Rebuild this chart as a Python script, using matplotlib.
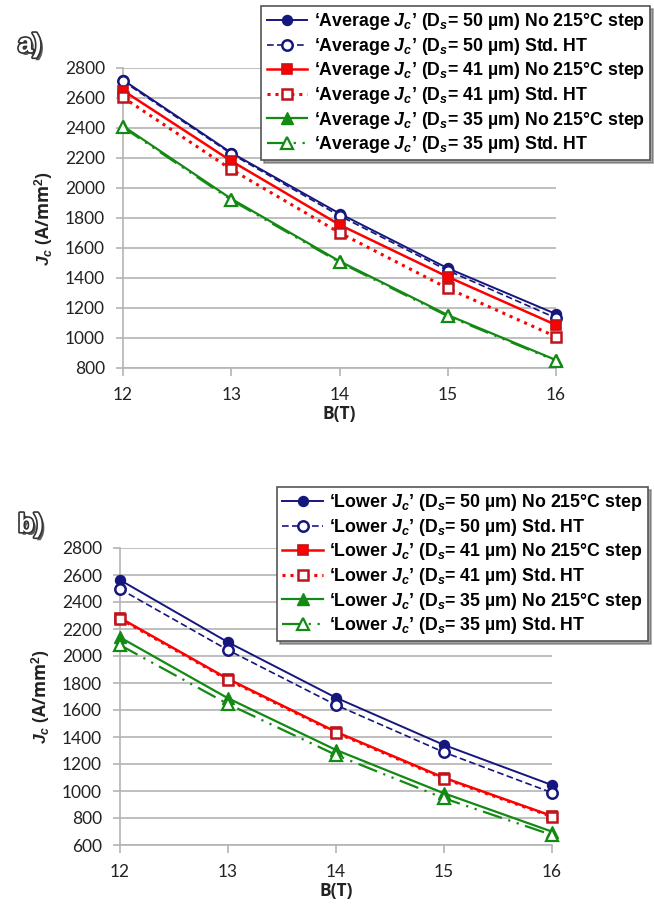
import matplotlib
matplotlib.use("Agg")
import matplotlib.pyplot as plt
import matplotlib.patheffects as pe

plt.rcParams["font.family"] = ["Lato", "DejaVu Sans"]
plt.rcParams["mathtext.fontset"] = "custom"
plt.rcParams["mathtext.rm"] = "Liberation Sans:bold"
plt.rcParams["mathtext.it"] = "Liberation Sans:bold:italic"
plt.rcParams["mathtext.bf"] = "Liberation Sans:bold"

# Magnetic field (T)
field = [12, 13, 14, 15, 16]

# Panel a: 'Average Jc' (A/mm^2)
avg_50_no215 = [2720, 2235, 1830, 1465, 1160]
avg_50_std = [2712, 2228, 1815, 1450, 1133]
avg_41_no215 = [2650, 2180, 1755, 1408, 1087]
avg_41_std = [2604, 2124, 1702, 1331, 1009]
avg_35_no215 = [2413, 1928, 1512, 1153, 853]
avg_35_std = [2405, 1920, 1505, 1146, 848]

# Panel b: 'Lower Jc' (A/mm^2)
low_50_no215 = [2563, 2102, 1691, 1341, 1044]
low_50_std = [2496, 2044, 1637, 1287, 987]
low_41_no215 = [2282, 1830, 1438, 1098, 815]
low_41_std = [2276, 1824, 1432, 1092, 810]
low_35_no215 = [2138, 1687, 1304, 983, 699]
low_35_std = [2081, 1644, 1267, 946, 674]

NAVY = "#16167f"
RED = "#ff0000"
RED_EDGE = "#c0141a"
GREEN = "#138a13"
GRID = "#b4b4b4"
LABEL_FONT = ["Open Sans", "DejaVu Sans"]


def series_styles():
    return [
        dict(color=NAVY, ls="-", lw=1.4, marker="o", ms=7, mfc=NAVY, mec=NAVY, mew=1.2),
        dict(color=NAVY, ls=(0, (4, 2)), lw=1.2, marker="o", ms=7.5, mfc="white", mec=NAVY, mew=1.8),
        dict(color=RED, ls="-", lw=1.8, marker="s", ms=7, mfc=RED, mec=RED_EDGE, mew=1.2),
        dict(color=RED, ls=(0, (1, 1.6)), lw=2.2, marker="s", ms=7.5, mfc="white", mec=RED_EDGE, mew=1.8),
        dict(color=GREEN, ls="-", lw=1.6, marker="^", ms=8, mfc=GREEN, mec=GREEN, mew=1.0),
        dict(color=GREEN, ls=(0, (9, 3, 1, 3, 1, 3)), lw=1.6, marker="^", ms=8.5, mfc="white", mec=GREEN, mew=1.6),
    ]


def labels(kind):
    out = []
    for d in ("50", "41", "35"):
        for ht in ("No 215°C step", "Std. HT"):
            out.append("‘%s $J_{c}$’ (D$_{s}$= %s µm) %s" % (kind, d, ht))
    return out


fig = plt.figure(figsize=(6.54, 9.08), dpi=100)

panels = [
    dict(rect=[123 / 654, 1 - 368 / 908, 433 / 654, 300 / 908],
         data=[avg_50_no215, avg_50_std, avg_41_no215, avg_41_std, avg_35_no215, avg_35_std],
         ylim=(800, 2800), kind="Average", tag="a)", tag_xy=(18 / 654, 1 - 45 / 908),
         leg_anchor=(650 / 654, 1 - 6 / 908)),
    dict(rect=[120 / 654, 1 - 845 / 908, 432 / 654, 297 / 908],
         data=[low_50_no215, low_50_std, low_41_no215, low_41_std, low_35_no215, low_35_std],
         ylim=(600, 2800), kind="Lower", tag="b)", tag_xy=(18 / 654, 1 - 525 / 908),
         leg_anchor=(648 / 654, 1 - 487 / 908)),
]

for p in panels:
    ax = fig.add_axes(p["rect"])
    ax.set_facecolor("white")
    handles = []
    for values, style, lab in zip(p["data"], series_styles(), labels(p["kind"])):
        h, = ax.plot(field, values, label=lab, clip_on=False, zorder=3, **style)
        handles.append(h)

    ax.set_xlim(12, 16)
    ax.set_ylim(*p["ylim"])
    ax.set_xticks(field)
    ax.set_yticks(range(p["ylim"][0], 2801, 200))
    ax.yaxis.grid(True, color=GRID, lw=1.2)
    ax.set_axisbelow(True)
    for side in ("top", "right"):
        ax.spines[side].set_visible(False)
    for side in ("left", "bottom"):
        ax.spines[side].set_color(GRID)
        ax.spines[side].set_linewidth(1.2)
    ax.tick_params(axis="both", colors=GRID, labelcolor="#222222", labelsize=12.5, width=1.2)
    ax.tick_params(axis="x", length=6, pad=8)
    ax.tick_params(axis="y", length=5, pad=8)

    ax.set_xlabel("B(T)", fontsize=12.5, fontweight="bold", family=LABEL_FONT,
                  labelpad=1, color="#222222")
    ax.set_ylabel("$J_{c}$ (A/mm$^{2}$)", fontsize=12.5, fontweight="bold", family=LABEL_FONT,
                  labelpad=7, color="#222222")

    leg = ax.legend(handles=handles, loc="upper right", bbox_to_anchor=p["leg_anchor"],
                    bbox_transform=fig.transFigure,
                    prop={"family": "Liberation Sans", "weight": "bold", "size": 12.8},
                    frameon=True, fancybox=False, shadow=True, edgecolor="#555555",
                    handlelength=2.3, handletextpad=0.35, labelspacing=0.2, borderpad=0.3,
                    borderaxespad=0)
    leg.get_frame().set_linewidth(1.2)
    leg.set_zorder(5)

    fig.text(p["tag_xy"][0], p["tag_xy"][1], p["tag"], fontsize=19, fontweight="bold",
             family="Liberation Sans", color="white", ha="left", va="center",
             path_effects=[pe.withSimplePatchShadow(offset=(2, -2), shadow_rgbFace="#333333", alpha=0.8),
                           pe.Stroke(linewidth=2.4, foreground="#333333"), pe.Normal()])

fig.savefig("out.png", dpi=100, facecolor="white")
